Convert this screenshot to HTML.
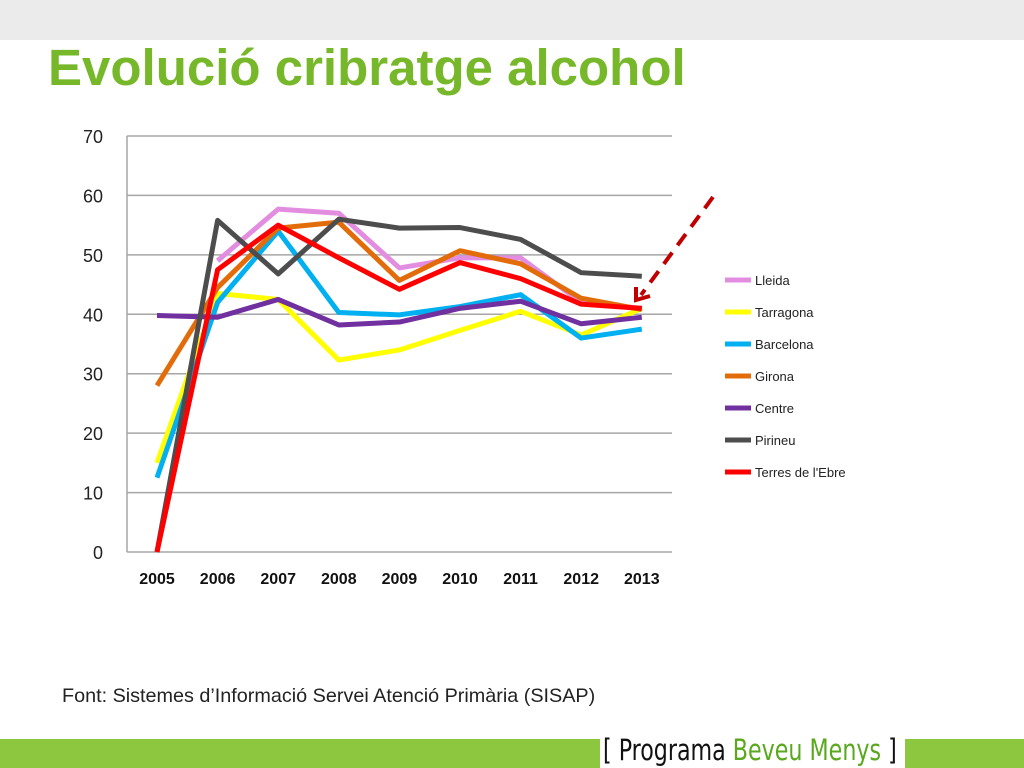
<!DOCTYPE html>
<html><head><meta charset="utf-8"><style>
body{margin:0;width:1024px;height:768px;position:relative;background:#fff;font-family:"Liberation Sans",sans-serif;overflow:hidden}
</style></head><body>
<div style="position:absolute;left:0;top:0;width:1024px;height:40px;background:#ebebeb"></div>
<div style="position:absolute;left:48px;top:38px;font-size:51px;font-weight:bold;color:#77b82a;white-space:nowrap">Evolució cribratge alcohol</div>
<svg id="chart" width="1024" height="768" style="position:absolute;left:0;top:0"></svg>
<div style="position:absolute;left:62px;top:685px;font-size:19.8px;color:#222;white-space:nowrap">Font: Sistemes d’Informació Servei Atenció Primària (SISAP)</div>
<div style="position:absolute;left:0;top:739px;width:600px;height:29px;background:#8dc63f"></div>
<div style="position:absolute;left:905px;top:739px;width:119px;height:29px;background:#8dc63f"></div>
<div style="position:absolute;left:603px;top:733px;font-size:29px;font-family:'DejaVu Sans Condensed','Liberation Sans Narrow',sans-serif;transform:scaleX(0.85);transform-origin:left;white-space:nowrap;color:#111">[ Programa <span style="color:#5aa81e">Beveu Menys</span> ]</div>
<script>
const years=["2005","2006","2007","2008","2009","2010","2011","2012","2013"];
const yTicks=[0,10,20,30,40,50,60,70];
const names=["Lleida","Tarragona","Barcelona","Girona","Centre","Pirineu","Terres de l'Ebre"];
const colors=["#e38de0","#ffff00","#00b0f0","#e36c0a","#7030a0","#4d4d4d","#ff0000"];
const lleida=[null,49,57.7,57,47.8,49.5,49.5,42,41];
const tarragona=[15,43.5,42.5,32.3,34,37.3,40.5,36.5,41];
const barcelona=[12.5,42,54,40.3,39.9,41.3,43.3,36,37.5];
const girona=[28,44.5,54.5,55.5,45.7,50.7,48.5,42.7,40.8];
const centre=[39.8,39.5,42.5,38.2,38.7,41,42.2,38.4,39.5];
const pirineu=[0,55.8,46.8,56,54.5,54.6,52.6,47,46.4];
const terres=[0,47.5,55,49.5,44.2,48.7,46,41.7,41];
const series=[lleida,tarragona,barcelona,girona,centre,pirineu,terres];
const svg=document.getElementById('chart');const NS="http://www.w3.org/2000/svg";
const x=i=>157+i*60.6, y=v=>552-v*(416/70);
function mk(t,a,p){const e=document.createElementNS(NS,t);for(const k in a)e.setAttribute(k,a[k]);(p||svg).appendChild(e);return e;}
yTicks.forEach(v=>{
 const l=mk('line',{x1:127,x2:672,y1:y(v),y2:y(v),stroke:'#a6a6a6','stroke-width':1.5});
 
 
 const t=mk('text',{x:103,y:y(v)+7,'text-anchor':'end','font-size':18,fill:'#222'});t.textContent=v;
 
 
});
const ax=mk('line',{x1:127,x2:127,y1:136,y2:552,stroke:'#a6a6a6','stroke-width':1.5});


years.forEach((yr,i)=>{const t=mk('text',{x:x(i),y:584,'text-anchor':'middle','font-size':16,'font-weight':'bold',fill:'#111'});t.textContent=yr;
 
 });
series.forEach((s,k)=>{
 let d='';s.forEach((v,i)=>{if(v==null)return;d+=(d?'L':'M')+x(i)+','+y(v);});
 const p=mk('path',{d:d,fill:'none',stroke:colors[k],'stroke-width':5,'stroke-linejoin':'round'});
 
 
 const ly=280+k*32;
 const ll=mk('line',{x1:725,x2:751,y1:ly,y2:ly,stroke:colors[k],'stroke-width':5});
 
 
 const lt=mk('text',{x:755,y:ly+5,'font-size':13,fill:'#222'});lt.textContent=names[k];
 
 
});
const ar=mk('line',{x1:713,y1:197,x2:641,y2:295,stroke:'#c00000','stroke-width':4,'stroke-dasharray':'14,9'});


const ah=mk('polyline',{points:'636,287 636,300 650,296',fill:'none',stroke:'#c00000','stroke-width':4});


</script>
</body></html>
